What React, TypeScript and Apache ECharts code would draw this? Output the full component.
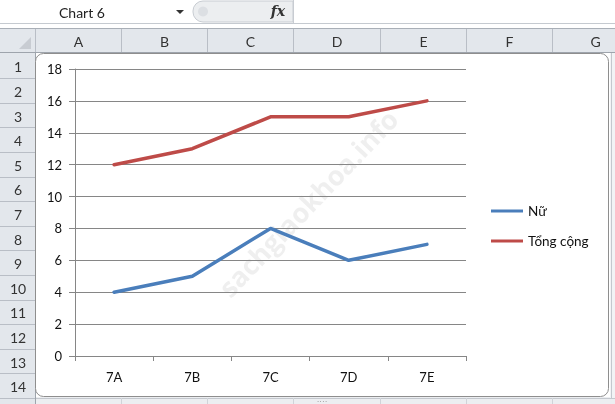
import React, { useEffect, useRef } from "react";
import * as echarts from "echarts";

const categories = ["7A", "7B", "7C", "7D", "7E"];
const nuValues = [4, 5, 8, 6, 7];
const tongValues = [12, 13, 15, 15, 16];
const seriesNames = ["Nữ", "Tổng cộng"];
const columnLabels = ["A", "B", "C", "D", "E", "F", "G"];
const rowLabels = ["1", "2", "3", "4", "5", "6", "7", "8", "9", "10", "11", "12", "13", "14"];

const FONT = "Lato, 'Open Sans', sans-serif";

export default function App() {
  const ref = useRef<HTMLDivElement>(null);
  useEffect(() => {
    if (!ref.current) return;
    const chart = echarts.init(ref.current, undefined, { renderer: "svg" });
    const colX = [35, 121, 207, 293, 380, 466, 552, 638];
    const rowTop = 53.5;
    const rowH = 24.6;
    const hdrFill = "#E3E7EC";
    const sepColor = "#B9BEC6";
    const g: any[] = [];
    // formula bar
    g.push({ type: "rect", z: -20, shape: { x: 0, y: 0, width: 615, height: 28 }, style: { fill: "#FFFFFF" } });
    g.push({ type: "rect", z: -19, shape: { x: 193, y: 1, width: 100, height: 21, r: [10, 0, 0, 10] }, style: { fill: "#ECEEF0", stroke: "#C8CCD2" } });
    g.push({ type: "circle", z: -18, shape: { cx: 203, cy: 11.5, r: 5 }, style: { fill: "#DCDFE3" } });
    g.push({ type: "line", z: -18, shape: { x1: 293.5, y1: 0, x2: 293.5, y2: 23 }, style: { stroke: "#C8CCD2" } });
    g.push({ type: "line", z: -18, shape: { x1: 0, y1: 23.5, x2: 615, y2: 23.5 }, style: { stroke: "#C5CAD0" } });
    g.push({ type: "text", z: -18, x: 59, y: 12, style: { text: "Chart 6", fontSize: 14, fontFamily: FONT, fill: "#222", verticalAlign: "middle" } });
    g.push({ type: "polygon", z: -18, shape: { points: [[176, 10], [184, 10], [180, 14]] }, style: { fill: "#333" } });
    g.push({ type: "text", z: -18, x: 278, y: 11, style: { text: "fx", fontSize: 14, fontStyle: "italic", fontWeight: "bold", fontFamily: "'DejaVu Serif', serif", fill: "#333", align: "center", verticalAlign: "middle" } });
    // column header band
    g.push({ type: "rect", z: -20, shape: { x: 0, y: 28, width: 615, height: 25 }, style: { fill: hdrFill } });
    g.push({ type: "line", z: -18, shape: { x1: 0, y1: 28.5, x2: 615, y2: 28.5 }, style: { stroke: "#A9AFB7" } });
    g.push({ type: "line", z: -18, shape: { x1: 0, y1: 52.5, x2: 615, y2: 52.5 }, style: { stroke: "#9EA4AC" } });
    g.push({ type: "polygon", z: -18, shape: { points: [[31, 37], [31, 49], [19, 49]] }, style: { fill: "#C8CCD2" } });
    colX.forEach((x) => {
      g.push({ type: "line", z: -18, shape: { x1: x + 0.5, y1: 29, x2: x + 0.5, y2: 52 }, style: { stroke: sepColor } });
    });
    columnLabels.forEach((c, i) => {
      g.push({ type: "text", z: -18, x: (colX[i] + colX[i + 1]) / 2 + 0.5, y: 41, style: { text: c, fontSize: 14, fontFamily: FONT, fill: "#333", align: "center", verticalAlign: "middle" } });
    });
    // row header
    g.push({ type: "rect", z: -20, shape: { x: 0, y: 53, width: 35, height: 351 }, style: { fill: hdrFill } });
    g.push({ type: "line", z: -18, shape: { x1: 35.5, y1: 53, x2: 35.5, y2: 404 }, style: { stroke: "#9EA4AC" } });
    rowLabels.forEach((r, i) => {
      const y0 = rowTop + rowH * i;
      g.push({ type: "line", z: -18, shape: { x1: 0, y1: Math.round(y0 + rowH) + 0.5, x2: 35, y2: Math.round(y0 + rowH) + 0.5 }, style: { stroke: sepColor } });
      g.push({ type: "text", z: -18, x: 18, y: y0 + rowH / 2 + 1, style: { text: r, fontSize: 14, fontFamily: FONT, fill: "#333", align: "center", verticalAlign: "middle" } });
    });
    // bottom strip below chart
    g.push({ type: "rect", z: -20, shape: { x: 36, y: 397, width: 579, height: 7 }, style: { fill: "#ECEEF1" } });
    g.push({ type: "line", z: -18, shape: { x1: 36, y1: 398.5, x2: 615, y2: 398.5 }, style: { stroke: "#C4C8CE" } });
    colX.slice(1, 7).forEach((x) => {
      g.push({ type: "line", z: -18, shape: { x1: x + 0.5, y1: 398, x2: x + 0.5, y2: 404 }, style: { stroke: "#D0D4D9" } });
    });
    g.push({ type: "text", z: -17, x: 322, y: 401, style: { text: "····", fontSize: 8, fill: "#999", align: "center", verticalAlign: "middle" } });
    // right edge
    g.push({ type: "rect", z: -20, shape: { x: 610, y: 53, width: 5, height: 345 }, style: { fill: "#F2F3F5" } });
    g.push({ type: "line", z: -18, shape: { x1: 611.5, y1: 53, x2: 611.5, y2: 398 }, style: { stroke: "#C4C8CE" } });
    // chart area
    g.push({ type: "rect", z: -10, shape: { x: 35.5, y: 53.5, width: 573, height: 343, r: 8 }, style: { fill: "#FFFFFF", stroke: "#8E8E8E", lineWidth: 1 } });
    // watermark
    g.push({ type: "text", z: -5, x: 308, y: 203, rotation: 0.81, style: { text: "sachgiaokhoa.info", fontSize: 27, fontWeight: "bold", fontFamily: "'Open Sans', sans-serif", fill: "rgba(190,190,190,0.25)", align: "center", verticalAlign: "middle" } });

    chart.setOption({
      animation: false,
      backgroundColor: "transparent",
      graphic: { elements: g },
      grid: { left: 75, right: 149, top: 69, bottom: 48, containLabel: false },
      legend: {
        orient: "vertical",
        left: 486,
        top: 199,
        itemWidth: 32,
        itemHeight: 3,
        itemGap: 16,
        icon: "rect",
        data: seriesNames,
        textStyle: { fontSize: 13.5, fontFamily: FONT, color: "#111" },
      },
      xAxis: {
        type: "category",
        data: categories,
        boundaryGap: true,
        axisLine: { show: true, lineStyle: { color: "#868686", width: 1 } },
        axisTick: { show: true, length: 5, lineStyle: { color: "#868686" } },
        axisLabel: { margin: 14, fontSize: 13, fontFamily: FONT, color: "#111" },
        splitLine: { show: false },
      },
      yAxis: {
        type: "value",
        min: 0,
        max: 18,
        interval: 2,
        axisLine: { show: true, lineStyle: { color: "#868686", width: 1 } },
        axisTick: { show: true, length: 6, lineStyle: { color: "#868686" } },
        axisLabel: { margin: 13, fontSize: 13, fontFamily: FONT, color: "#111" },
        splitLine: { show: true, lineStyle: { color: "#868686", width: 1 } },
      },
      series: [
        {
          name: seriesNames[0],
          type: "line",
          data: nuValues,
          showSymbol: false,
          symbol: "none",
          color: "#4A7EBB",
          lineStyle: { width: 3.5, color: "#4A7EBB", cap: "round", join: "round" },
          z: 3,
        },
        {
          name: seriesNames[1],
          type: "line",
          data: tongValues,
          showSymbol: false,
          symbol: "none",
          color: "#BE4B48",
          lineStyle: { width: 3.5, color: "#BE4B48", cap: "round", join: "round" },
          z: 3,
        },
      ],
    });
    return () => chart.dispose();
  }, []);
  return <div ref={ref} style={{ position: "fixed", left: 0, top: 0, width: 615, height: 404 }} />;
}
